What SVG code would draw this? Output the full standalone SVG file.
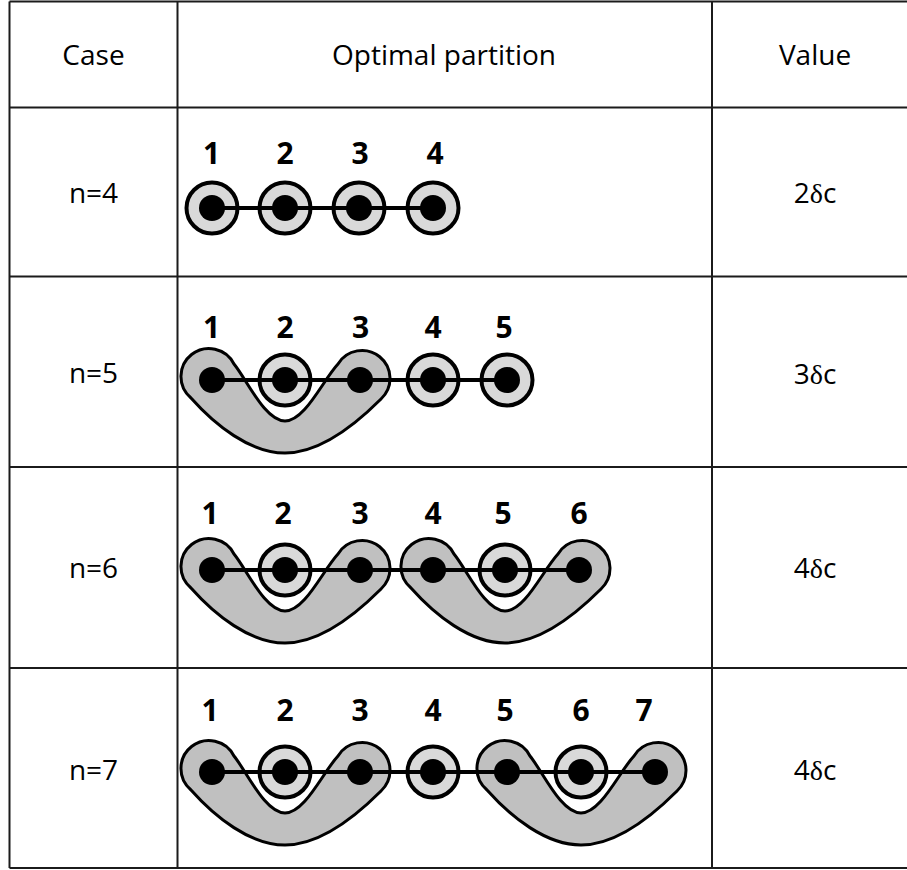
<svg xmlns="http://www.w3.org/2000/svg" xmlns:xlink="http://www.w3.org/1999/xlink" width="907" height="870" viewBox="0 0 907 870">
<style>
.grid{stroke:#1b1b1b;stroke-width:2;fill:none}
.ring{fill:#d9d9d9;stroke:#000;stroke-width:4}
.dot{fill:#000}
.u{fill:#c0c0c0;stroke:#000;stroke-width:3;stroke-linejoin:round}
.edge{stroke:#000;stroke-width:4;fill:none}
.lbl{font-family:"Open Sans","Liberation Sans",sans-serif;font-weight:bold;font-size:30px;text-anchor:middle;fill:#000}
.txt{font-family:"Open Sans","Liberation Sans",sans-serif;font-size:28px;text-anchor:middle;fill:#000}
.sym{font-family:"Liberation Serif","DejaVu Serif",serif}
</style>
<defs>
<path id="U" class="u" d="M -94,18 A 28 28 0 1 1 -51,-16 C -38,0 -20,41 0,41 C 20,41 38,0 53,-16 A 28 28 0 1 1 96,19 C 70,45 35,73 0,73 C -35,73 -70,45 -94,18 Z"/>
<circle id="R" class="ring" r="25.5"/>
<circle id="D" class="dot" r="13"/>
</defs>
<rect width="907" height="870" fill="#fff"/>
<g id="table" class="grid">
<line x1="9.5" y1="1.5" x2="907" y2="1.5"/>
<line x1="9.5" y1="107.5" x2="907" y2="107.5"/>
<line x1="9.5" y1="276.5" x2="907" y2="276.5"/>
<line x1="9.5" y1="467" x2="907" y2="467"/>
<line x1="9.5" y1="668" x2="907" y2="668"/>
<line x1="9.5" y1="868" x2="907" y2="868"/>
<line x1="9.5" y1="1.5" x2="9.5" y2="868"/>
<line x1="177.5" y1="1.5" x2="177.5" y2="868"/>
<line x1="712" y1="1.5" x2="712" y2="868"/>
</g>
<g id="header">
<text class="txt" x="93.5" y="65">Case</text>
<text class="txt" x="444" y="65">Optimal partition</text>
<text class="txt" x="815" y="65">Value</text>
</g>
<g id="cases">
<text class="txt" x="93.5" y="203">n=4</text>
<text class="txt" x="93.5" y="383">n=5</text>
<text class="txt" x="93.5" y="578">n=6</text>
<text class="txt" x="93.5" y="780">n=7</text>
</g>
<g id="values">
<text class="txt" x="815" y="203">2<tspan class="sym">δ</tspan>c</text>
<text class="txt" x="815" y="384">3<tspan class="sym">δ</tspan>c</text>
<text class="txt" x="815" y="578">4<tspan class="sym">δ</tspan>c</text>
<text class="txt" x="815" y="780">4<tspan class="sym">δ</tspan>c</text>
</g>

<!-- row n=4 -->
<g id="n4">
<g id="n4-1"><use href="#R" x="212" y="208"/><use href="#D" x="212" y="208"/><text class="lbl" x="211.5" y="164">1</text></g>
<g id="n4-2"><use href="#R" x="285" y="208"/><use href="#D" x="285" y="208"/><text class="lbl" x="285" y="164">2</text></g>
<g id="n4-3"><use href="#R" x="359" y="208"/><use href="#D" x="359" y="208"/><text class="lbl" x="360" y="164">3</text></g>
<g id="n4-4"><use href="#R" x="433" y="208"/><use href="#D" x="433" y="208"/><text class="lbl" x="435" y="164">4</text></g>
<g id="n4-edges"><line class="edge" x1="212" y1="208" x2="433" y2="208"/></g>
</g>

<!-- row n=5 -->
<g id="n5">
<g id="n5-p123"><use href="#U" x="285" y="380"/></g>
<g id="n5-1"><use href="#D" x="212" y="380"/><text class="lbl" x="211.5" y="338">1</text></g>
<g id="n5-2"><use href="#R" x="285" y="380"/><use href="#D" x="285" y="380"/><text class="lbl" x="285" y="338">2</text></g>
<g id="n5-3"><use href="#D" x="360" y="380"/><text class="lbl" x="360.5" y="338">3</text></g>
<g id="n5-4"><use href="#R" x="433" y="380"/><use href="#D" x="433" y="380"/><text class="lbl" x="433" y="338">4</text></g>
<g id="n5-5"><use href="#R" x="507" y="380"/><use href="#D" x="507" y="380"/><text class="lbl" x="504" y="338">5</text></g>
<g id="n5-edges"><line class="edge" x1="212" y1="380" x2="507" y2="380"/></g>
</g>

<!-- row n=6 -->
<g id="n6">
<g id="n6-p123"><use href="#U" x="285" y="570"/></g>
<g id="n6-p456"><use href="#U" x="505" y="570"/></g>
<g id="n6-1"><use href="#D" x="212" y="570"/><text class="lbl" x="210" y="524">1</text></g>
<g id="n6-2"><use href="#R" x="285" y="570"/><use href="#D" x="285" y="570"/><text class="lbl" x="283" y="524">2</text></g>
<g id="n6-3"><use href="#D" x="360" y="570"/><text class="lbl" x="360" y="524">3</text></g>
<g id="n6-4"><use href="#D" x="433" y="570"/><text class="lbl" x="433" y="524">4</text></g>
<g id="n6-5"><use href="#R" x="505" y="570"/><use href="#D" x="505" y="570"/><text class="lbl" x="503" y="524">5</text></g>
<g id="n6-6"><use href="#D" x="579" y="570"/><text class="lbl" x="579" y="524">6</text></g>
<g id="n6-edges"><line class="edge" x1="212" y1="570" x2="579" y2="570"/></g>
</g>

<!-- row n=7 -->
<g id="n7">
<g id="n7-p123"><use href="#U" x="285" y="772"/></g>
<g id="n7-p567"><use href="#U" x="581" y="772"/></g>
<g id="n7-1"><use href="#D" x="212" y="772"/><text class="lbl" x="210" y="721">1</text></g>
<g id="n7-2"><use href="#R" x="285" y="772"/><use href="#D" x="285" y="772"/><text class="lbl" x="285" y="721">2</text></g>
<g id="n7-3"><use href="#D" x="360" y="772"/><text class="lbl" x="360" y="721">3</text></g>
<g id="n7-4"><use href="#R" x="433" y="772"/><use href="#D" x="433" y="772"/><text class="lbl" x="433" y="721">4</text></g>
<g id="n7-5"><use href="#D" x="507" y="772"/><text class="lbl" x="505" y="721">5</text></g>
<g id="n7-6"><use href="#R" x="581" y="772"/><use href="#D" x="581" y="772"/><text class="lbl" x="581" y="721">6</text></g>
<g id="n7-7"><use href="#D" x="655" y="772"/><text class="lbl" x="644" y="721">7</text></g>
<g id="n7-edges"><line class="edge" x1="212" y1="772" x2="655" y2="772"/></g>
</g>
</svg>
